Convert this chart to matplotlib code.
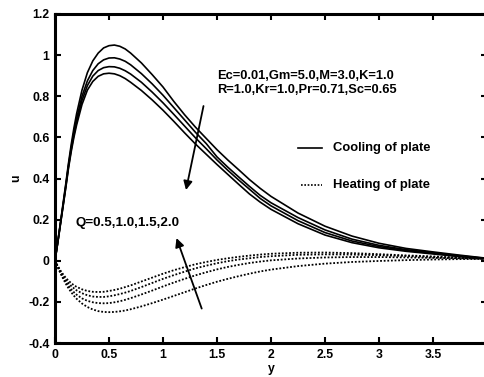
import matplotlib
matplotlib.use("Agg")
import matplotlib.pyplot as plt

plt.rcParams['font.family'] = ['Liberation Sans', 'DejaVu Sans']
plt.rcParams['font.weight'] = 'bold'

y = [0, 0.025, 0.05, 0.075, 0.1, 0.125, 0.15, 0.175, 0.2, 0.25, 0.3, 0.35, 0.4, 0.45, 0.5,
     0.55, 0.6, 0.65, 0.7, 0.8, 0.9, 1.0, 1.1, 1.2, 1.3, 1.4, 1.5, 1.6, 1.7, 1.8, 1.9, 2.0,
     2.25, 2.5, 2.75, 3.0, 3.25, 3.5, 3.75, 4.0]

# Cooling of plate (solid)
cool_1 = [0, 0.09, 0.185, 0.28, 0.375, 0.475, 0.565, 0.645, 0.715, 0.83, 0.915, 0.972, 1.01, 1.035, 1.046,
          1.049, 1.043, 1.03, 1.01, 0.962, 0.905, 0.845, 0.775, 0.71, 0.65, 0.595, 0.54, 0.49, 0.443, 0.395,
          0.352, 0.313, 0.232, 0.168, 0.12, 0.085, 0.06, 0.043, 0.027, 0.012]
cool_2 = [0, 0.088, 0.18, 0.273, 0.367, 0.465, 0.55, 0.625, 0.69, 0.80, 0.875, 0.925, 0.958, 0.977, 0.986,
          0.987, 0.981, 0.97, 0.953, 0.91, 0.86, 0.805, 0.745, 0.685, 0.625, 0.57, 0.505, 0.455, 0.408, 0.362,
          0.318, 0.282, 0.21, 0.15, 0.105, 0.075, 0.054, 0.039, 0.024, 0.011]
cool_3 = [0, 0.087, 0.178, 0.268, 0.36, 0.457, 0.54, 0.612, 0.675, 0.78, 0.852, 0.898, 0.925, 0.939, 0.944,
          0.943, 0.936, 0.924, 0.908, 0.868, 0.82, 0.768, 0.712, 0.655, 0.598, 0.545, 0.49, 0.44, 0.393, 0.348,
          0.303, 0.267, 0.195, 0.137, 0.096, 0.069, 0.05, 0.036, 0.022, 0.010]
cool_4 = [0, 0.085, 0.175, 0.265, 0.355, 0.45, 0.53, 0.60, 0.66, 0.76, 0.83, 0.872, 0.897, 0.909, 0.912,
          0.909, 0.90, 0.886, 0.868, 0.828, 0.782, 0.732, 0.678, 0.622, 0.568, 0.518, 0.468, 0.42, 0.372, 0.325,
          0.285, 0.25, 0.18, 0.125, 0.088, 0.063, 0.046, 0.033, 0.020, 0.010]

# Heating of plate (dotted)
heat_1 = [0, -0.025, -0.047, -0.066, -0.083, -0.097, -0.109, -0.119, -0.127, -0.139, -0.147, -0.151, -0.152,
          -0.151, -0.147, -0.142, -0.136, -0.128, -0.12, -0.101, -0.082, -0.063, -0.046, -0.031, -0.017, -0.006,
          0.004, 0.012, 0.019, 0.025, 0.03, 0.034, 0.039, 0.04, 0.037, 0.032, 0.026, 0.021, 0.015, 0.010]
heat_2 = [0, -0.027, -0.052, -0.074, -0.093, -0.109, -0.123, -0.134, -0.144, -0.158, -0.168, -0.174, -0.176,
          -0.176, -0.173, -0.168, -0.162, -0.155, -0.147, -0.128, -0.108, -0.088, -0.07, -0.053, -0.037, -0.024,
          -0.012, -0.002, 0.006, 0.012, 0.018, 0.022, 0.029, 0.031, 0.03, 0.027, 0.023, 0.018, 0.014, 0.010]
heat_3 = [0, -0.029, -0.056, -0.081, -0.103, -0.122, -0.139, -0.153, -0.165, -0.183, -0.195, -0.202, -0.206,
          -0.207, -0.206, -0.202, -0.197, -0.19, -0.182, -0.164, -0.145, -0.125, -0.106, -0.088, -0.071, -0.056,
          -0.042, -0.03, -0.02, -0.011, -0.004, 0.002, 0.011, 0.016, 0.018, 0.018, 0.016, 0.014, 0.012, 0.010]
heat_4 = [0, -0.031, -0.06, -0.087, -0.112, -0.134, -0.153, -0.17, -0.185, -0.208, -0.225, -0.237, -0.245,
          -0.249, -0.25, -0.249, -0.246, -0.242, -0.236, -0.222, -0.206, -0.189, -0.171, -0.153, -0.135, -0.118,
          -0.102, -0.088, -0.075, -0.063, -0.052, -0.043, -0.026, -0.014, -0.006, -0.001, 0.003, 0.006, 0.008, 0.009]

xticks = [0, 0.5, 1, 1.5, 2, 2.5, 3, 3.5]
xticklabels = ['0', '0.5', '1', '1.5', '2', '2.5', '3', '3.5']
yticks = [-0.4, -0.2, 0, 0.2, 0.4, 0.6, 0.8, 1.0, 1.2]
yticklabels = ['-0.4', '-0.2', '0', '0.2', '0.4', '0.6', '0.8', '1', '1.2']

W, H = 485, 377
fig = plt.figure(figsize=(W / 100, H / 100), dpi=100)
ax = fig.add_axes([55 / W, (H - 343) / H, (487 - 55) / W, (343 - 14) / H])

for c in (cool_1, cool_2, cool_3, cool_4):
    ax.plot(y, c, color='black', lw=1.2, solid_joinstyle='round')
for h in (heat_1, heat_2, heat_3, heat_4):
    ax.plot(y, h, color='black', lw=1.3, linestyle=(0, (1, 1)))

ax.set_xlim(0, 4)
ax.set_ylim(-0.4, 1.2)
ax.set_xticks(xticks)
ax.set_xticklabels(xticklabels)
ax.set_yticks(yticks)
ax.set_yticklabels(yticklabels)
ax.tick_params(direction='in', length=4, width=1.5, labelsize=8.8, top=True, right=True, pad=4)
for lab in ax.get_xticklabels() + ax.get_yticklabels():
    lab.set_fontweight('bold')
for s in ax.spines.values():
    s.set_linewidth(2.2)

ax.set_xlabel('y', fontsize=8.8, fontweight='bold', labelpad=2)
ax.set_ylabel('u', fontsize=8.8, fontweight='bold', labelpad=4)


def px(xp, yp):
    return ((xp - 55) / 108.0, (260.7 - yp) / 205.6)


fs = 9.3
ax.text(*px(217, 76), 'Ec=0.01,Gm=5.0,M=3.0,K=1.0', fontsize=fs, fontweight='bold', va='center', ha='left')
ax.text(*px(217, 90), 'R=1.0,Kr=1.0,Pr=0.71,Sc=0.65', fontsize=fs, fontweight='bold', va='center', ha='left')
ax.text(*px(76, 223), 'Q=0.5,1.0,1.5,2.0', fontsize=9.6, fontweight='bold', va='center', ha='left')

# legend (manual to match layout)
ax.plot([px(298, 148)[0], px(322, 148)[0]], [px(298, 148)[1]] * 2, color='black', lw=1.2)
ax.plot([px(301, 185)[0], px(322, 185)[0]], [px(301, 185)[1]] * 2, color='black', lw=1.2, linestyle=(0, (1, 1)))
ax.text(*px(333, 148), 'Cooling of plate', fontsize=9.4, fontweight='bold', va='center', ha='left')
ax.text(*px(333, 185), 'Heating of plate', fontsize=9.4, fontweight='bold', va='center', ha='left')

ap = dict(arrowstyle='-|>', color='black', lw=1.3, mutation_scale=13, shrinkA=0, shrinkB=0)
ax.annotate('', xy=px(186, 190), xytext=px(203.5, 106), arrowprops=ap)
ax.annotate('', xy=px(176.5, 238), xytext=px(201.7, 308.5), arrowprops=ap)

fig.savefig('out.png', dpi=100)
